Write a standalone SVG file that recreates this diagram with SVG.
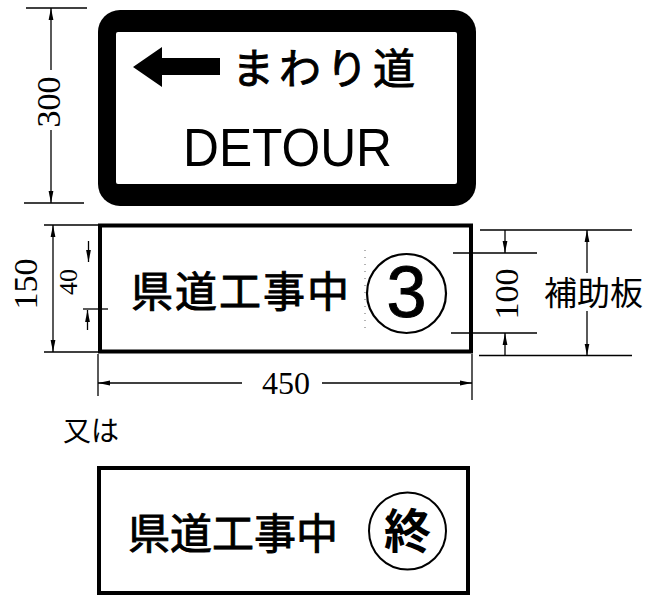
<svg xmlns="http://www.w3.org/2000/svg" width="647" height="601" viewBox="0 0 647 601">
<defs>
<style>
.dim{stroke:#000;stroke-width:1.3;fill:none}
.ext{stroke:#000;stroke-width:1.3;fill:none}
.num{font-family:"Liberation Serif","DejaVu Serif",serif;fill:#000}
.jp{font-family:"Noto Sans CJK JP","Noto Sans",sans-serif;fill:#000}
.sign{stroke:#000;stroke-width:0.9}
.board{fill:#fff;stroke:#000;stroke-width:4}
</style>
<marker id="arr" viewBox="0 0 12 6" refX="12" refY="3" markerWidth="12" markerHeight="6" markerUnits="userSpaceOnUse" orient="auto-start-reverse">
<path d="M0,0.6 L12,3 L0,5.4 Z" fill="#000"/>
</marker>
</defs>
<rect width="647" height="601" fill="#fff"/>

<g id="sign-detour">
<rect x="98" y="10" width="378" height="196" rx="22" fill="#000"/>
<rect x="116" y="32" width="341" height="152" rx="2" fill="#fff"/>
<path d="M133,67 L162,47 L162,58 L220,58 L220,75 L162,75 L162,87 Z" fill="#000"/>
<text class="jp sign" x="232" y="84" font-size="42" letter-spacing="5">まわり道</text>
<text x="183" y="166" font-family="Liberation Sans, Arial, sans-serif" font-size="54" textLength="209" lengthAdjust="spacingAndGlyphs">DETOUR</text>
</g>

<g id="sign-main">
<rect class="board" x="100" y="225.5" width="371" height="126"/>
<line x1="365" y1="250" x2="365" y2="334" stroke="#666" stroke-width="1" stroke-dasharray="1 6"/>
<text class="jp sign" x="131" y="307" font-size="42" letter-spacing="2">県道工事中</text>
<circle cx="406.5" cy="293.5" r="39.5" fill="none" stroke="#000" stroke-width="2.2"/>
<text x="406.5" y="317" text-anchor="middle" font-family="Liberation Sans, Arial, sans-serif" font-size="72" stroke="#000" stroke-width="1">3</text>
</g>

<g id="label-matawa">
<text class="jp" x="63" y="441" font-size="28">又は</text>
</g>

<g id="sign-alt">
<rect class="board" x="99" y="468" width="369" height="125"/>
<text class="jp sign" x="128" y="549" font-size="42">県道工事中</text>
<circle cx="407.5" cy="531" r="38.5" fill="none" stroke="#000" stroke-width="2"/>
<text class="jp" x="407.5" y="548" text-anchor="middle" font-size="47" font-weight="bold">終</text>
</g>

<g id="label-hojoban">
<text class="jp" x="544" y="305" font-size="33">補助板</text>
</g>

<g id="connectors">
<line class="ext" x1="26" y1="8" x2="87" y2="8"/>
<line class="ext" x1="24" y1="203" x2="84" y2="203"/>
<line class="dim" x1="51" y1="70" x2="51" y2="8" marker-end="url(#arr)"/>
<line class="dim" x1="51" y1="130" x2="51" y2="203" marker-end="url(#arr)"/>
<line class="ext" x1="44" y1="225" x2="100" y2="225"/>
<line class="ext" x1="44" y1="352" x2="100" y2="352"/>
<line class="dim" x1="53" y1="225" x2="53" y2="352" marker-start="url(#arr)" marker-end="url(#arr)"/>
<line class="dim" x1="88.5" y1="241" x2="88.5" y2="262" marker-end="url(#arr)"/>
<line class="ext" x1="83" y1="309" x2="108" y2="309"/>
<line class="dim" x1="87.5" y1="330" x2="87.5" y2="310" marker-end="url(#arr)"/>
<line class="ext" x1="98" y1="354" x2="98" y2="396"/>
<line class="ext" x1="472" y1="354" x2="472" y2="400"/>
<line class="dim" x1="242" y1="383" x2="98" y2="383" marker-end="url(#arr)"/>
<line class="dim" x1="322" y1="383" x2="472" y2="383" marker-end="url(#arr)"/>
<line class="ext" x1="453" y1="253" x2="537" y2="253"/>
<line class="ext" x1="451" y1="333" x2="537" y2="333"/>
<line class="dim" x1="505" y1="230" x2="505" y2="253" marker-end="url(#arr)"/>
<line class="dim" x1="505" y1="355" x2="505" y2="333" marker-end="url(#arr)"/>
<line class="ext" x1="480" y1="230" x2="632" y2="230"/>
<line class="ext" x1="479" y1="355.5" x2="632" y2="355.5"/>
<line class="dim" x1="587" y1="273" x2="587" y2="230" marker-end="url(#arr)"/>
<line class="dim" x1="587" y1="311" x2="587" y2="355.5" marker-end="url(#arr)"/>
</g>

<g id="dim-labels">
<text class="num" font-size="34" text-anchor="middle" transform="translate(60,102) rotate(-90)">300</text>
<text class="num" font-size="34" text-anchor="middle" transform="translate(37,284) rotate(-90)">150</text>
<text class="num" font-size="26" text-anchor="middle" transform="translate(77,282) rotate(-90)">40</text>
<text class="num" font-size="34" text-anchor="middle" transform="translate(518,294) rotate(-90)">100</text>
<text class="num" font-size="32" x="286" y="394" text-anchor="middle">450</text>
</g>
</svg>
